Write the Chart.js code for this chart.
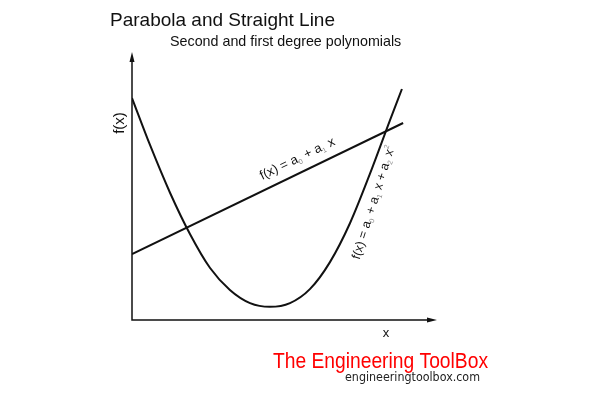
<!DOCTYPE html>
<html><head><meta charset="utf-8">
<script src="https://cdn.jsdelivr.net/npm/chart.js@4/dist/chart.umd.min.js"></script>
<style>html,body{margin:0;padding:0;background:#fff;}#wrap{position:relative;width:600px;height:395px;}</style>
</head><body><div id="wrap"><canvas id="c" width="600" height="395"></canvas></div>
<script>
// Data (arbitrary units, axes 0..10)
const parabolaX = [0.00, 0.59, 1.25, 1.90, 2.56, 3.21, 3.87, 4.52, 5.18, 5.84, 6.49, 7.15, 7.80, 8.46, 8.85];
const parabolaY = [8.28, 6.53, 4.74, 3.21, 1.94, 1.12, 0.63, 0.49, 0.63, 1.16, 2.16, 3.62, 5.45, 7.46, 8.62];
const lineX = [0.00, 8.89];
const lineY = [2.46, 7.35];

const titleText = "Parabola and Straight Line";
const subtitleText = "Second and first degree polynomials";
const xLabel = "x";
const yLabel = "f(x)";
const lineFormula = [["f(x) = a",0],["0",1],[" + a",0],["1",1],[" x",0]];
const parabolaFormula = [["f(x) = a",0],["0",1],[" + a",0],["1",1],[" x + a",0],["2",1],[" x",0],["2",2]];
const logoText = "The Engineering ToolBox";
const logoUrl = "engineeringtoolbox.com";

const FONT = '"Liberation Sans", Arial, Helvetica, sans-serif';

function pts(xs, ys){ return xs.map((x,i)=>({x:x,y:ys[i]})); }

function drawRich(ctx, parts, cx, cy, angle, size){
  ctx.save();
  ctx.translate(cx, cy);
  ctx.rotate(angle);
  const sub = Math.round(size*0.55);
  let w = 0;
  parts.forEach(p=>{
    ctx.font = (p[1] ? sub : size) + 'px ' + FONT;
    w += ctx.measureText(p[0]).width + (p[1] ? 0.5 : 0);
  });
  let x = -w/2;
  ctx.textBaseline = 'alphabetic';
  ctx.textAlign = 'left';
  parts.forEach(p=>{
    if (p[1]) {
      ctx.font = sub + 'px ' + FONT;
      ctx.fillStyle = '#888';
      const dy = p[1] === 1 ? size*0.2 : -size*0.45;
      ctx.fillText(p[0], x, size*0.35 + dy);
      x += ctx.measureText(p[0]).width + 0.5;
    } else {
      ctx.font = size + 'px ' + FONT;
      ctx.fillStyle = '#111';
      ctx.fillText(p[0], x, size*0.35);
      x += ctx.measureText(p[0]).width;
    }
  });
  ctx.restore();
}

function fitText(ctx, text, x, y, font, width, color){
  ctx.save();
  ctx.font = font;
  ctx.fillStyle = color;
  ctx.textAlign = 'left';
  ctx.textBaseline = 'alphabetic';
  const m = ctx.measureText(text).width;
  ctx.translate(x, y);
  ctx.scale(width / m, 1);
  ctx.fillText(text, 0, 0);
  ctx.restore();
}

const decor = {
  id: 'decor',
  afterDraw(chart){
    const ctx = chart.ctx;
    const a = chart.chartArea;
    ctx.save();
    // axes
    ctx.strokeStyle = '#111';
    ctx.fillStyle = '#111';
    ctx.lineWidth = 1.5;
    ctx.beginPath();
    ctx.moveTo(a.left, a.top + 6);
    ctx.lineTo(a.left, a.bottom);
    ctx.lineTo(a.right - 6, a.bottom);
    ctx.stroke();
    ctx.beginPath();
    ctx.moveTo(a.left, a.top);
    ctx.lineTo(a.left - 2.5, a.top + 10);
    ctx.lineTo(a.left + 2.5, a.top + 10);
    ctx.closePath();
    ctx.fill();
    ctx.beginPath();
    ctx.moveTo(a.right, a.bottom);
    ctx.lineTo(a.right - 10, a.bottom - 2.5);
    ctx.lineTo(a.right - 10, a.bottom + 2.5);
    ctx.closePath();
    ctx.fill();

    // titles
    ctx.fillStyle = '#111';
    ctx.textAlign = 'left';
    ctx.textBaseline = 'alphabetic';
    ctx.font = '19px ' + FONT;
    ctx.fillText(titleText, 110, 26);
    ctx.font = '14.3px ' + FONT;
    ctx.fillText(subtitleText, 170, 46);

    // axis labels
    ctx.font = '13px ' + FONT;
    ctx.textAlign = 'center';
    ctx.textBaseline = 'middle';
    ctx.fillText(xLabel, 386, 333);
    ctx.font = '15px ' + FONT;
    ctx.save();
    ctx.translate(120, 123);
    ctx.rotate(-Math.PI/2);
    ctx.fillText(yLabel, 0, 0);
    ctx.restore();

    // formulas
    const xs = chart.scales.x, ys = chart.scales.y;
    const p0x = xs.getPixelForValue(lineX[0]), p0y = ys.getPixelForValue(lineY[0]);
    const p1x = xs.getPixelForValue(lineX[1]), p1y = ys.getPixelForValue(lineY[1]);
    const ang = Math.atan2(p1y - p0y, p1x - p0x);
    drawRich(ctx, lineFormula, 297, 158, ang, 13);
    drawRich(ctx, parabolaFormula, 373, 202, -72.6*Math.PI/180, 12.5);

    // logo
    fitText(ctx, logoText, 273, 368, '22px "Liberation Sans Narrow", "Liberation Sans", Arial, sans-serif', 215, '#ff0000');
    fitText(ctx, logoUrl, 345, 381, '13px "DejaVu Sans", "Liberation Sans", sans-serif', 135, '#222');
    ctx.restore();
  }
};

new Chart(document.getElementById('c'), {
  type: 'scatter',
  data: {
    datasets: [
      { label: 'Parabola', data: pts(parabolaX, parabolaY), showLine: true, borderColor: '#111', borderWidth: 2, pointRadius: 0, cubicInterpolationMode: 'monotone', fill: false },
      { label: 'Straight line', data: pts(lineX, lineY), showLine: true, borderColor: '#111', borderWidth: 2, pointRadius: 0, fill: false }
    ]
  },
  options: {
    responsive: false,
    animation: false,
    devicePixelRatio: 1,
    layout: { padding: { left: 132, top: 52, right: 163, bottom: 75 } },
    plugins: { legend: { display: false }, tooltip: { enabled: false }, title: { display: false } },
    scales: {
      x: { type: 'linear', min: 0, max: 10, display: false },
      y: { type: 'linear', min: 0, max: 10, display: false }
    }
  },
  plugins: [decor]
});
</script>
</body></html>
